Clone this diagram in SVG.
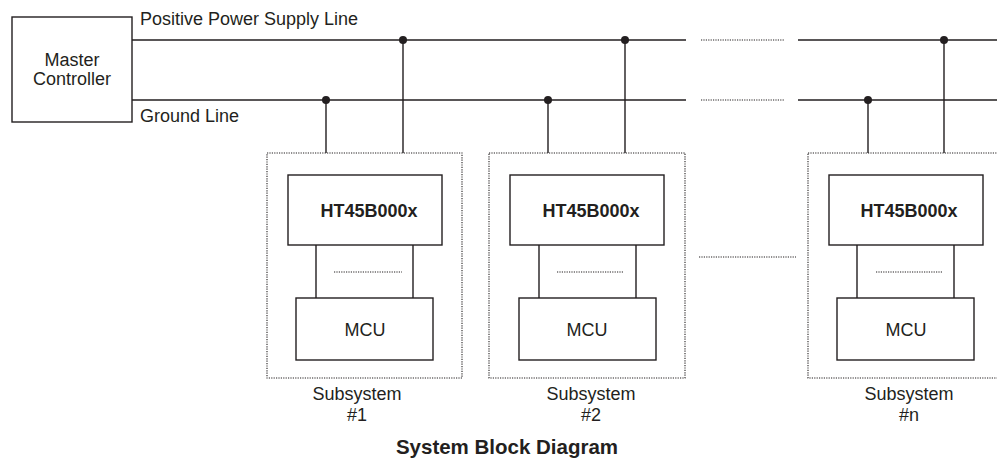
<svg xmlns="http://www.w3.org/2000/svg" width="997" height="458" viewBox="0 0 997 458">
<style>
.ln{stroke:#231f20;stroke-width:1.4;fill:none}
.box{stroke:#231f20;stroke-width:1.4;fill:#fff}
.dot{stroke:#231f20;stroke-width:1.2;stroke-dasharray:1.2 1.2;fill:none}
.sub{stroke:#231f20;stroke-width:1.1;stroke-dasharray:1.2 1.2;fill:none}
.t{font-family:"Liberation Sans",Arial,sans-serif;font-size:18px;fill:#231f20}
.b{font-family:"Liberation Sans",Arial,sans-serif;font-size:18px;font-weight:bold;fill:#231f20}
.j{fill:#231f20}
</style>
<rect width="997" height="458" fill="#fff"/>
<g id="master">
<rect class="box" x="12" y="17" width="120" height="105"/>
<text class="t" x="72" y="66" text-anchor="middle">Master</text>
<text class="t" x="72" y="85" text-anchor="middle">Controller</text>
</g>
<g id="bus-labels">
<text class="t" x="140" y="25">Positive Power Supply Line</text>
<text class="t" x="140" y="122">Ground Line</text>
</g>
<g id="connectors">
<path class="ln" d="M132 40H686M798 40H997M132 100H686M798 100H997"/>
<path class="dot" d="M701 40H785M701 100H785M699 257H796"/>
<path class="ln" d="M326 100V153M403 40V153M548 100V153M625 40V153M868 100V153M944 40V153"/>
<circle class="j" cx="403" cy="40" r="4"/>
<circle class="j" cx="625" cy="40" r="4"/>
<circle class="j" cx="944" cy="40" r="4"/>
<circle class="j" cx="326" cy="100" r="4"/>
<circle class="j" cx="548" cy="100" r="4"/>
<circle class="j" cx="868" cy="100" r="4"/>
</g>
<g id="subsystem1">
<rect class="sub" x="267" y="153" width="195" height="225"/>
<rect class="box" x="288" y="175" width="154" height="70"/>
<text class="b" x="369" y="217" text-anchor="middle">HT45B000x</text>
<path class="ln" d="M316 245V298M413 245V298"/>
<path class="dot" d="M334 272H402"/>
<rect class="box" x="296" y="298" width="137" height="62"/>
<text class="t" x="365" y="336" text-anchor="middle">MCU</text>
<text class="t" x="357" y="400" text-anchor="middle">Subsystem</text>
<text class="t" x="357" y="421" text-anchor="middle">#1</text>
</g>
<g id="subsystem2">
<rect class="sub" x="489" y="153" width="196" height="225"/>
<rect class="box" x="510" y="175" width="154" height="70"/>
<text class="b" x="591" y="217" text-anchor="middle">HT45B000x</text>
<path class="ln" d="M539 245V298M636 245V298"/>
<path class="dot" d="M557 272H624"/>
<rect class="box" x="519" y="298" width="137" height="62"/>
<text class="t" x="587" y="336" text-anchor="middle">MCU</text>
<text class="t" x="591" y="400" text-anchor="middle">Subsystem</text>
<text class="t" x="591" y="421" text-anchor="middle">#2</text>
</g>
<g id="subsystemn">
<rect class="sub" x="808" y="153" width="196" height="225"/>
<rect class="box" x="829" y="175" width="154" height="70"/>
<text class="b" x="909" y="217" text-anchor="middle">HT45B000x</text>
<path class="ln" d="M857 245V298M954 245V298"/>
<path class="dot" d="M876 272H943"/>
<rect class="box" x="837" y="298" width="137" height="62"/>
<text class="t" x="906" y="336" text-anchor="middle">MCU</text>
<text class="t" x="909" y="400" text-anchor="middle">Subsystem</text>
<text class="t" x="909" y="421" text-anchor="middle">#n</text>
</g>
<g id="title">
<text class="b" x="507" y="454" text-anchor="middle" style="font-size:20.5px">System Block Diagram</text>
</g>
</svg>
